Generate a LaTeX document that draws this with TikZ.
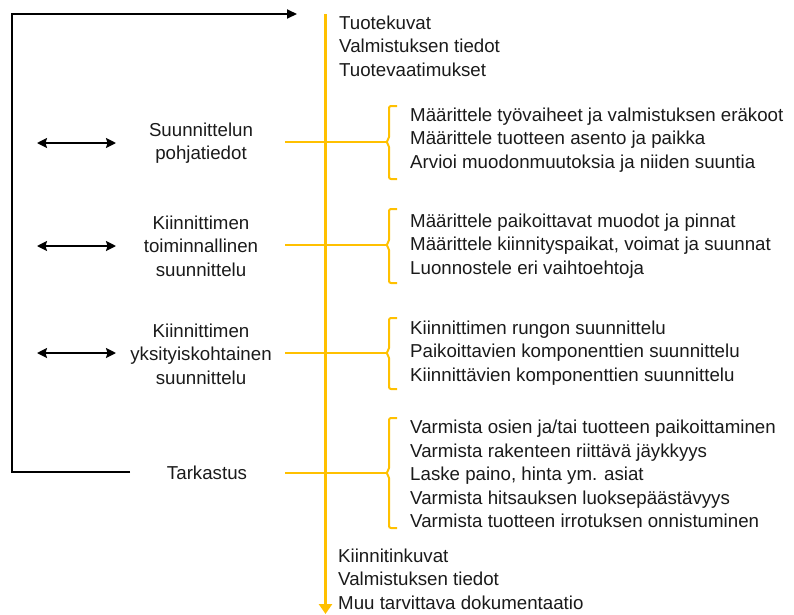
\documentclass[tikz,border=0pt]{standalone}
\usepackage{fontspec}
\setmainfont{Liberation Sans}
\usetikzlibrary{arrows.meta}
\definecolor{gold}{HTML}{FFC000}
\definecolor{ink}{HTML}{1A1A1A}
\tikzset{
  txt/.style={font=\fontsize{18.7}{23.6}\selectfont, text=ink, inner sep=0pt, align=left, anchor=west},
  lab/.style={font=\fontsize{18.7}{23.6}\selectfont, text=ink, inner sep=0pt, align=center},
  gline/.style={draw=gold, line width=2pt},
  gmain/.style={draw=gold, line width=3.5pt, -{Triangle[width=13pt,length=10pt]}},
  bracestyle/.style={draw=gold, line width=2pt, rounded corners=2pt},
  blk/.style={draw=black, line width=2pt},
  dbl/.style={draw=black, line width=2pt, {Stealth[width=10pt,length=10pt,inset=1.5pt]}-{Stealth[width=10pt,length=10pt,inset=1.5pt]}},
}
\begin{document}
\begin{tikzpicture}[x=1pt,y=-1pt]
\useasboundingbox (0,0) rectangle (794,614);

% main yellow flow
\coordinate (vtop) at (325.5,14);
\coordinate (vbot) at (325.5,614);
\draw[gmain] (vtop) -- (vbot);

% feedback loop
\coordinate (fb0) at (130,472);
\coordinate (fbc1) at (12,472);
\coordinate (fbc2) at (12,14);
\coordinate (fb1) at (297,14);
\draw[blk, -{Triangle[width=9pt,length=10pt]}] (fb0) -- (fbc1) -- (fbc2) -- (fb1);

% top and bottom texts
\node[txt] (intext) at (339,46) {Tuotekuvat\\Valmistuksen tiedot\\Tuotevaatimukset};
\node[txt] (outtext) at (338,579) {Kiinnitinkuvat\\Valmistuksen tiedot\\Muu tarvittava dokumentaatio};

% left labels
\node[lab] (lab1) at (201,143) {Suunnittelun\\pohjatiedot};
\node[lab] (lab2) at (201,246) {Kiinnittimen\\toiminnallinen\\suunnittelu};
\node[lab] (lab3) at (201,354) {Kiinnittimen\\yksityiskohtainen\\suunnittelu};
\node[lab] (lab4) at (207,473) {Tarkastus};

% double arrows
\coordinate (d1l) at (37,143); \coordinate (d1r) at (116,143);
\coordinate (d2l) at (37,246); \coordinate (d2r) at (116,246);
\coordinate (d3l) at (37,353); \coordinate (d3r) at (116,353);
\draw[dbl] (d1l) -- (d1r);
\draw[dbl] (d2l) -- (d2r);
\draw[dbl] (d3l) -- (d3r);

% task groups
\node[txt] (g1) at (410,140) {Määrittele työvaiheet ja valmistuksen eräkoot\\Määrittele tuotteen asento ja paikka\\Arvioi muodonmuutoksia ja niiden suuntia};
\node[txt] (g2) at (410,246) {Määrittele paikoittavat muodot ja pinnat\\Määrittele kiinnityspaikat, voimat ja suunnat\\Luonnostele eri vaihtoehtoja};
\node[txt] (g3) at (410,353) {Kiinnittimen rungon suunnittelu\\Paikoittavien komponenttien suunnittelu\\Kiinnittävien komponenttien suunnittelu};
\node[txt] (g4) at (410,474) {Varmista osien ja/tai tuotteen paikoittaminen\\Varmista rakenteen riittävä jäykkyys\\Laske paino, hinta ym. asiat\\Varmista hitsauksen luoksepäästävyys\\Varmista tuotteen irrotuksen onnistuminen};

% branches
\coordinate (b1) at (285,142); \coordinate (t1) at (386,142);
\coordinate (b2) at (285,245); \coordinate (t2) at (386,245);
\coordinate (b3) at (285,353); \coordinate (t3) at (386,353);
\coordinate (b4) at (285,473); \coordinate (t4) at (386,473);
\draw[gline] (b1) -- (t1);
\draw[gline] (b2) -- (t2);
\draw[gline] (b3) -- (t3);
\draw[gline] (b4) -- (t4);

% braces
\draw[bracestyle] (397,106) -- (389,106) -- (389,139) -- (t1) -- (389,145) -- (389,179) -- (397,179);
\draw[bracestyle] (397,209) -- (389,209) -- (389,242) -- (t2) -- (389,248) -- (389,283) -- (397,283);
\draw[bracestyle] (397,318) -- (389,318) -- (389,350) -- (t3) -- (389,356) -- (389,389) -- (397,389);
\draw[bracestyle] (397,418) -- (389,418) -- (389,470) -- (t4) -- (389,476) -- (389,528) -- (397,528);
\end{tikzpicture}
\end{document}
